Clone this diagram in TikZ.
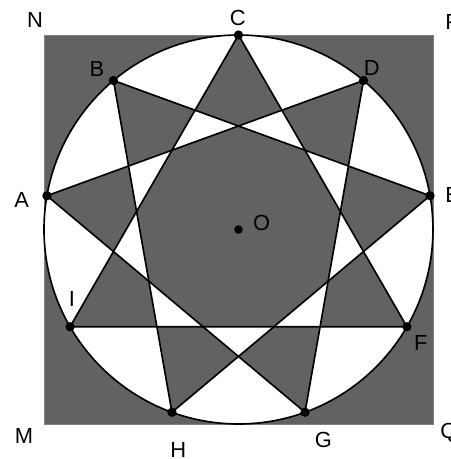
\documentclass[tikz,border=0pt]{standalone}
\usepackage{fontspec}
\setmainfont{Liberation Sans}
\definecolor{grisoscuro}{RGB}{98,98,98}
\begin{document}
\begin{tikzpicture}[
  pto/.style={circle, fill=black, inner sep=0pt, minimum size=2.4mm},
  etiq/.style={inner sep=0pt, font=\fontsize{16}{19}\selectfont},
  trazo/.style={line width=1.2pt, line join=round}
]
  \useasboundingbox (-6.131,-5.900) rectangle (5.463,5.900);

  % Cuadrado MNPQ
  \coordinate (M) at (-5,-5);
  \coordinate (N) at (-5,5);
  \coordinate (P) at (5,5);
  \coordinate (Q) at (5,-5);
  \fill[grisoscuro] (M) rectangle (P);
  \draw[gray, line width=0.6pt] (M) -- (N) -- (P) -- (Q) -- cycle;

  % Circunferencia inscrita
  \coordinate (O) at (0,0);
  \fill[white] (O) circle (5);

  % Vértices sobre la circunferencia
  \foreach \v [count=\k from 0] in {C,B,A,I,H,G,F,E,D}
    \coordinate (\v) at ({90+40*\k}:5);

  % Triángulos ADG, BEH y CFI
  \fill[grisoscuro, even odd rule]
    (A) -- (D) -- (G) -- cycle
    (B) -- (E) -- (H) -- cycle
    (C) -- (F) -- (I) -- cycle;

  \draw[trazo] (A) -- (D) -- (G) -- cycle;
  \draw[trazo] (B) -- (E) -- (H) -- cycle;
  \draw[trazo] (C) -- (F) -- (I) -- cycle;
  \draw[trazo] (O) circle (5);

  % Puntos
  \foreach \v in {A,B,C,D,E,F,G,H,I}
    \node[pto] (p\v) at (\v) {};
  \node[pto, minimum size=2.2mm] (pO) at (O) {};

  % Etiquetas
  \node[etiq] (tN) at (-5.231,5.386) {N};
  \node[etiq, anchor=west] (tP) at (5.309,5.342) {P};
  \node[etiq, anchor=west] (tQ) at (5.18,-5.24) {Q};
  \node[etiq] (tM) at (-5.514,-5.309) {M};
  \node[etiq] (tC) at (-0.02,5.45) {C};
  \node[etiq] (tB) at (-3.638,4.126) {B};
  \node[etiq] (tD) at (3.424,4.165) {D};
  \node[etiq] (tA) at (-5.574,0.766) {A};
  \node[etiq, anchor=west] (tE) at (5.309,0.887) {E};
  \node[etiq] (tI) at (-4.280,-1.787) {I};
  \node[etiq] (tF) at (4.687,-2.905) {F};
  \node[etiq] (tG) at (2.18,-5.411) {G};
  \node[etiq] (tH) at (-1.548,-5.660) {H};
  \node[etiq] (tO) at (0.596,0.159) {O};

\end{tikzpicture}
\end{document}
